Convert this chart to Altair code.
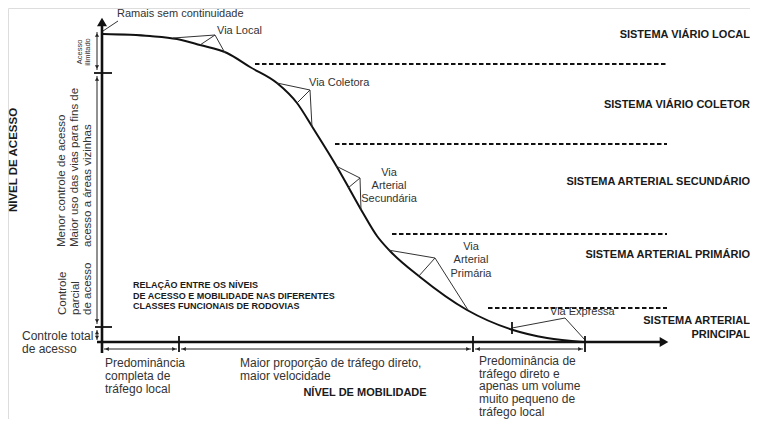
import altair as alt
import pandas as pd

# ---- coordinate frame: mobility (x) and access level (y), origin at axes crossing ----
# curve of access vs mobility
curve_mob = [1, 48, 75, 98, 125, 148, 175, 195, 211, 235, 248, 261, 275, 288, 318, 365, 411, 445, 481]
curve_acc = [308, 306, 303, 297, 289, 275, 259, 239, 214, 175, 152, 129, 106, 91, 65, 32, 12, 4, 0]

# dashed class boundaries (access level, start mobility, end mobility)
bound_acc = [278, 198, 108, 34]
bound_start = [153, 233, 290, 386]
bound_end = [565, 565, 565, 565]

# system labels
sys_labels = ["SISTEMA VIÁRIO LOCAL", "SISTEMA VIÁRIO COLETOR", "SISTEMA ARTERIAL SECUNDÁRIO",
              "SISTEMA ARTERIAL PRIMÁRIO", "SISTEMA ARTERIAL", "PRINCIPAL"]
sys_acc = [307, 237, 160, 87, 21, 7]
sys_mob = [648, 648, 648, 648, 648, 648]

# road-type annotations (apex -> curve points)
lead_x = [113, 113, 113, 208, 208, 208, 258, 258, 258, 333, 333, 333, 410, 463, 1]
lead_y = [307, 307, 307, 252, 252, 252, 164, 164, 164, 84, 84, 84, 14, 24, 311]
lead_x2 = [71, 98, 123, 175, 195, 210, 234, 246, 259, 286, 316, 366, 463, 483, 16]
lead_y2 = [304, 297, 289, 259, 239, 215, 176, 154, 132, 92, 65, 32, 24, 2, 321]

via_text = ["Via Local", "Via Coletora", "Via Expressa", "Ramais sem continuidade"]
via_mob = [115, 207, 448, 15]
via_acc = [311, 259, 30, 328]

via_c_text = ["Via", "Arterial", "Secundária", "Via", "Arterial", "Primária"]
via_c_mob = [287, 287, 287, 369, 369, 369]
via_c_acc = [169, 156, 143, 95, 82, 68]

# axis lines
axis_x = [0, -5]
axis_y = [-11, 0]
axis_x2 = [0, 562]
axis_y2 = [318, 0]

tick_x = [-8, -7, 77, 371, 483, 410]
tick_y = [269, 15, 6, 6, 6, 20]
tick_x2 = [10, 10, 77, 371, 483, 410]
tick_y2 = [269, 15, -10, -10, -10, 8]

# dimension arrows
dim_x = [-5, -5, -5, 2, 79, 373]
dim_y = [310, 266, 12, -7, -7, -7]
dim_x2 = [-5, -5, -5, 75, 369, 481]
dim_y2 = [272, 18, 2, -7, -7, -7]

head_x = [-5, -5, -5, -5, -5, -5, 5, 72, 82, 366, 376, 478]
head_y = [307, 275, 263, 21, 9.5, 4.5, -7, -7, -7, -7, -7, -7]
head_shape = ["triangle-up", "triangle-down", "triangle-up", "triangle-down", "triangle-up", "triangle-down",
              "triangle-left", "triangle-right", "triangle-left", "triangle-right", "triangle-left", "triangle-right"]

big_x = [0, 562]
big_y = [320, 0]
big_shape = ["triangle-up", "triangle-right"]

# bottom texts
bot_text = ["Predominância", "completa de", "tráfego local",
            "Maior proporção de tráfego direto,", "maior velocidade",
            "Predominância de", "tráfego direto e", "apenas um volume", "muito pequeno de", "tráfego local",
            "Controle total", "de acesso"]
bot_mob = [3, 3, 3, 138, 138, 377, 377, 377, 377, 377, -80, -80]
bot_acc = [-21, -34, -47, -21, -34, -19, -31.7, -44.4, -57.1, -69.8, 6, -7]

# rotated left texts (left-aligned, reading upward)
rot_text = ["Menor controle de acesso", "Maior uso das vias para fins de", "acesso a áreas vizinhas",
            "Controle", "parcial", "de acesso"]
rot_mob = [-40, -27, -14, -39, -26.5, -14]
rot_acc = [95, 95, 95, 27, 27, 27]

small_text = ["Acesso", "ilimitado"]
small_mob = [-22, -14]
small_acc = [290, 290]

title_text = ["RELAÇÃO ENTRE OS NÍVEIS", "DE ACESSO E MOBILIDADE NAS DIFERENTES", "CLASSES FUNCIONAIS DE RODOVIAS"]
title_mob = [31, 31, 31]
title_acc = [57, 46.5, 36]

FONT = "Liberation Sans"
XS = alt.Scale(domain=[-94, 648], nice=False, zero=False)
YS = alt.Scale(domain=[-77, 334], nice=False, zero=False)


def X(f="x"):
    return alt.X(f"{f}:Q", scale=XS, axis=None)


def Y(f="y"):
    return alt.Y(f"{f}:Q", scale=YS, axis=None)


def rules(xs, ys, x2s, y2s):
    return pd.DataFrame({"x": xs, "y": ys, "x2": x2s, "y2": y2s})


def texts(t, xs, ys):
    return pd.DataFrame({"x": xs, "y": ys, "t": t})


curve = alt.Chart(pd.DataFrame({"x": curve_mob, "y": curve_acc})).mark_line(
    interpolate="monotone", color="#111", strokeWidth=2).encode(x=X(), y=Y())

dashed = alt.Chart(rules(bound_start, bound_acc, bound_end, bound_acc)).mark_rule(
    color="#111", strokeWidth=2, strokeDash=[4.5, 2.5]).encode(x=X(), y=Y(), x2="x2:Q", y2="y2:Q")

axes = alt.Chart(rules(axis_x, axis_y, axis_x2, axis_y2)).mark_rule(
    color="#111", strokeWidth=2.6).encode(x=X(), y=Y(), x2="x2:Q", y2="y2:Q")

ticks = alt.Chart(rules(tick_x, tick_y, tick_x2, tick_y2)).mark_rule(
    color="#111", strokeWidth=1.8).encode(x=X(), y=Y(), x2="x2:Q", y2="y2:Q")

dims = alt.Chart(rules(dim_x, dim_y, dim_x2, dim_y2)).mark_rule(
    color="#222", strokeWidth=1).encode(x=X(), y=Y(), x2="x2:Q", y2="y2:Q")

leads = alt.Chart(rules(lead_x, lead_y, lead_x2, lead_y2)).mark_rule(
    color="#333", strokeWidth=1).encode(x=X(), y=Y(), x2="x2:Q", y2="y2:Q")

heads = alt.Chart(pd.DataFrame({"x": head_x, "y": head_y, "s": head_shape})).mark_point(
    filled=True, color="#222", size=18, opacity=1).encode(
    x=X(), y=Y(), shape=alt.Shape("s:N", scale=None))

bigheads = alt.Chart(pd.DataFrame({"x": big_x, "y": big_y, "s": big_shape})).mark_point(
    filled=True, color="#111", size=100, opacity=1).encode(
    x=X(), y=Y(), shape=alt.Shape("s:N", scale=None))

sys_t = alt.Chart(texts(sys_labels, sys_mob, sys_acc)).mark_text(
    font=FONT, fontSize=11, fontWeight="bold", align="right", baseline="middle", color="#1a1a1a").encode(
    x=X(), y=Y(), text="t:N")

via_t = alt.Chart(texts(via_text, via_mob, via_acc)).mark_text(
    font=FONT, fontSize=11, align="left", baseline="middle", color="#333").encode(
    x=X(), y=Y(), text="t:N")

via_c = alt.Chart(texts(via_c_text, via_c_mob, via_c_acc)).mark_text(
    font=FONT, fontSize=11, align="center", baseline="middle", color="#333").encode(
    x=X(), y=Y(), text="t:N")

bot_t = alt.Chart(texts(bot_text, bot_mob, bot_acc)).mark_text(
    font=FONT, fontSize=12, align="left", baseline="middle", color="#333").encode(
    x=X(), y=Y(), text="t:N")

rot_t = alt.Chart(texts(rot_text, rot_mob, rot_acc)).mark_text(
    font=FONT, fontSize=11.5, align="left", baseline="middle", angle=270, color="#333").encode(
    x=X(), y=Y(), text="t:N")

small_t = alt.Chart(texts(small_text, small_mob, small_acc)).mark_text(
    font=FONT, fontSize=7.5, align="center", baseline="middle", angle=270, color="#333").encode(
    x=X(), y=Y(), text="t:N")

title_t = alt.Chart(texts(title_text, title_mob, title_acc)).mark_text(
    font=FONT, fontSize=9, fontWeight="bold", align="left", baseline="middle", color="#1a1a1a").encode(
    x=X(), y=Y(), text="t:N")

xlab = alt.Chart(texts(["NÍVEL DE MOBILIDADE"], [263], [-51])).mark_text(
    font=FONT, fontSize=11, fontWeight="bold", align="center", baseline="middle", color="#1a1a1a").encode(
    x=X(), y=Y(), text="t:N")

ylab = alt.Chart(texts(["NÍVEL DE ACESSO"], [-88], [182])).mark_text(
    font=FONT, fontSize=11.5, fontWeight="bold", align="center", baseline="middle", angle=270,
    color="#1a1a1a").encode(x=X(), y=Y(), text="t:N")

chart = alt.layer(
    dashed, curve, leads, dims, heads, ticks, axes, bigheads,
    sys_t, via_t, via_c, bot_t, rot_t, small_t, title_t, xlab, ylab
).properties(
    width=742, height=411, padding=0, autosize=alt.AutoSizeParams(type="none")
).configure_view(stroke=None).configure(background="white")

chart.save("out.html", embed_options={"renderer": "svg", "actions": False})
